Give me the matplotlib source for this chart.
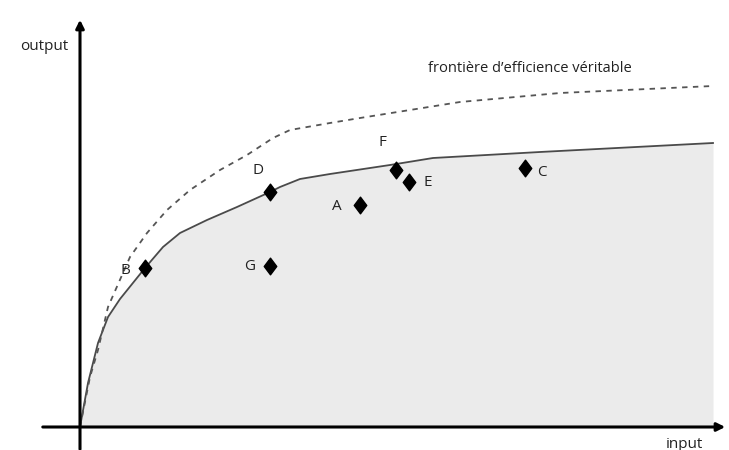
import numpy as np
import matplotlib.pyplot as plt
from matplotlib.path import Path

# observed frontier (solid) and true efficiency frontier (dashed)
frontier_x = [0, 8, 18, 28, 40, 65, 83, 100, 127, 157, 190, 200, 220, 250, 310, 353, 460, 633]
frontier_y = [0, 44, 84, 110, 128, 159, 180, 194, 207, 220, 235, 240, 248, 253, 262, 269, 275, 284]

true_x = [0, 10, 18, 28, 50, 67, 87, 110, 140, 167, 193, 210, 250, 280, 380, 480, 633]
true_y = [0, 50, 77, 120, 170, 194, 217, 237, 257, 272, 289, 297, 304, 309, 325, 334, 341]

# firms
names = ['A', 'B', 'C', 'D', 'E', 'F', 'G']
firm_x = [280, 65, 445, 190, 329, 316, 190]
firm_y = [222, 159, 259, 235, 245, 257, 161]
label_dx = [-23, -20, 17, -12, 19, -14, -20]
label_dy = [-1, -3, -5, 22, -1, 28, 0]

plt.rcParams['font.family'] = ['Open Sans', 'DejaVu Sans']

fig = plt.figure(figsize=(7.29, 4.5), dpi=100)
ax = fig.add_axes([0, 0, 1, 1])
ax.set_xlim(-80, 649)
ax.set_ylim(-23, 427)
ax.axis('off')

ax.fill_between(frontier_x, frontier_y, 0, color='#ebebeb', lw=0)
ax.plot(frontier_x, frontier_y, color='#4a4a4a', lw=1.3)
ax.plot(true_x, true_y, color='#555555', lw=1.3, ls=(0, (3, 3)))

diamond = Path([(0, 1), (0.75, 0), (0, -1), (-0.75, 0), (0, 1)],
               [Path.MOVETO, Path.LINETO, Path.LINETO, Path.LINETO, Path.CLOSEPOLY])
ax.plot(firm_x, firm_y, marker=diamond, color='black', markersize=12, ls='none')
for n, x, y, dx, dy in zip(names, firm_x, firm_y, label_dx, label_dy):
    ax.text(x + dx, y + dy, n, ha='center', va='center', fontsize=11, color='#222222')

# axes with arrows
ax.annotate('', xy=(648, 0), xytext=(-40, 0),
            arrowprops=dict(arrowstyle='-|>', lw=2.2, color='black', mutation_scale=12))
ax.annotate('', xy=(0, 410), xytext=(0, -25),
            arrowprops=dict(arrowstyle='-|>', lw=2.2, color='black', mutation_scale=12))

ax.text(-36, 381, 'output', ha='center', va='center', fontsize=11, color='#222222')
ax.text(604, -17, 'input', ha='center', va='center', fontsize=11, color='#222222')
ax.text(450, 359, 'frontière d\u2019efficience véritable', ha='center', va='center',
        fontsize=10.5, color='#222222')

plt.savefig('out.png', dpi=100)
